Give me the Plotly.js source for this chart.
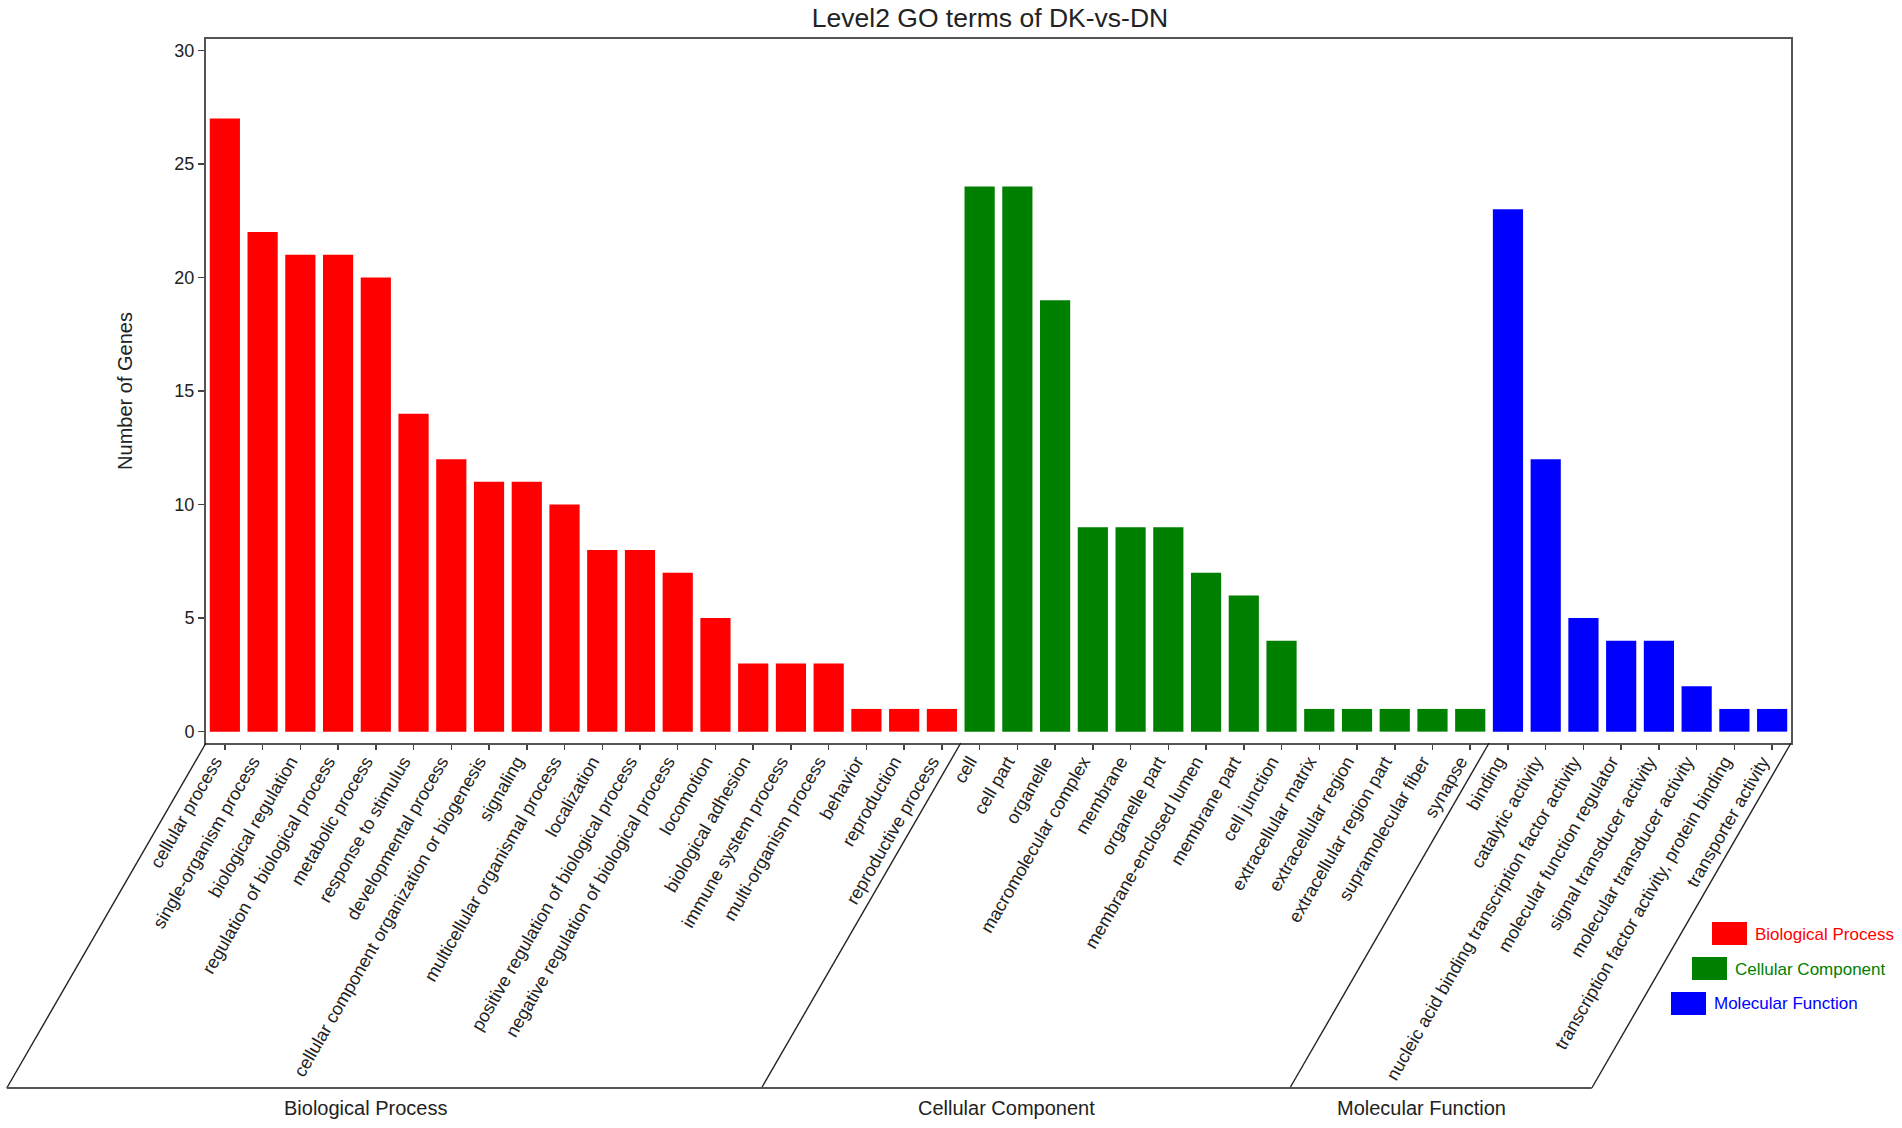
<!DOCTYPE html>
<html lang="en">
<head>
    <meta charset="UTF-8">
    <title>Level2 GO terms of DK-vs-DN</title>
    <script src="https://cdn.plot.ly/plotly-3.0.1.min.js"></script>
    <style>
        body { margin: 0; background: #fff; }
    </style>
</head>
<body>

<div id="plot"></div>

<script>
    // GO level 2 terms and gene counts, one list per ontology
    let bpTerms = ["cellular process", "single-organism process", "biological regulation",
        "regulation of biological process", "metabolic process", "response to stimulus",
        "developmental process", "cellular component organization or biogenesis", "signaling",
        "multicellular organismal process", "localization", "positive regulation of biological process",
        "negative regulation of biological process", "locomotion", "biological adhesion",
        "immune system process", "multi-organism process", "behavior", "reproduction",
        "reproductive process"]
    let bpCounts = [27, 22, 21, 21, 20, 14, 12, 11, 11, 10, 8, 8, 7, 5, 3, 3, 3, 1, 1, 1]

    let ccTerms = ["cell", "cell part", "organelle", "macromolecular complex", "membrane",
        "organelle part", "membrane-enclosed lumen", "membrane part", "cell junction",
        "extracellular matrix", "extracellular region", "extracellular region part",
        "supramolecular fiber", "synapse"]
    let ccCounts = [24, 24, 19, 9, 9, 9, 7, 6, 4, 1, 1, 1, 1, 1]

    let mfTerms = ["binding", "catalytic activity", "nucleic acid binding transcription factor activity",
        "molecular function regulator", "signal transducer activity", "molecular transducer activity",
        "transcription factor activity, protein binding", "transporter activity"]
    let mfCounts = [23, 12, 5, 4, 4, 2, 1, 1]

    let groupNames = ["Biological Process", "Cellular Component", "Molecular Function"]
    let groupColors = ["#ff0000", "#008000", "#0000ff"]

    // page geometry
    let W = 1902, H = 1128
    let margin = {l: 206, r: 111, t: 39, b: 385}
    let plotW = W - margin.l - margin.r
    let plotH = H - margin.t - margin.b
    let font = "Liberation Sans, Arial, Helvetica, sans-serif"
    let ink = "#222"

    // pixel -> paper helpers for the decorations
    let px = v => (v - margin.l) / plotW
    let py = v => (H - margin.b - v) / plotH

    let groups = [[bpTerms, bpCounts], [ccTerms, ccCounts], [mfTerms, mfCounts]]
    let nTotal = bpTerms.length + ccTerms.length + mfTerms.length

    let data = groups.map((g, i) => ({
        type: "bar",
        x: g[0],
        y: g[1],
        name: groupNames[i],
        marker: {color: groupColors[i], line: {width: 0}},
        hoverinfo: "x+y"
    }))

    // slanted frame under the tick labels
    let slant = 60 * Math.PI / 180
    let bottomPx = 1088
    let yb = py(bottomPx)
    let dx = ((bottomPx - (H - margin.b)) / Math.tan(slant)) / plotW
    let bounds = [0, bpTerms.length, bpTerms.length + ccTerms.length, nTotal]

    let shapes = bounds.map(b => ({
        type: "line", xref: "paper", yref: "paper",
        x0: b / nTotal, y0: 0, x1: b / nTotal - dx, y1: yb,
        line: {color: ink, width: 1.4}
    }))
    shapes.push({
        type: "line", xref: "paper", yref: "paper",
        x0: -dx, y0: yb, x1: 1 - dx, y1: yb,
        line: {color: "#555", width: 2}
    })

    let annotations = []
    for (let i = 0; i < 3; i++) {
        let mid = (bounds[i] + bounds[i + 1]) / 2 / nTotal - dx
        annotations.push({
            xref: "paper", yref: "paper",
            x: mid - 19 / plotW, y: py(1108),
            text: groupNames[i], showarrow: false,
            xanchor: "center", yanchor: "middle",
            font: {family: font, size: 20, color: ink}
        })
    }

    // legend boxes stepped along the slant
    let legendBoxes = [[1712, 922], [1692, 957], [1671, 992]]
    legendBoxes.forEach((p, i) => {
        shapes.push({
            type: "rect", xref: "paper", yref: "paper",
            x0: px(p[0]), x1: px(p[0] + 35), y0: py(p[1]), y1: py(p[1] + 23),
            fillcolor: groupColors[i], line: {width: 0}
        })
        annotations.push({
            xref: "paper", yref: "paper",
            x: px(p[0] + 41), y: py(p[1] + 12),
            text: groupNames[i], showarrow: false,
            xanchor: "left", yanchor: "middle",
            font: {family: font, size: 17, color: groupColors[i]}
        })
    })

    let layout = {
        width: W,
        height: H,
        margin: margin,
        paper_bgcolor: "#fff",
        plot_bgcolor: "#fff",
        showlegend: false,
        barmode: "overlay",
        bargap: 0.2,
        font: {family: font, color: ink},
        title: {
            text: "Level2 GO terms of DK-vs-DN",
            font: {family: font, size: 26.5, color: ink},
            xref: "container", yref: "container",
            x: 990 / W, xanchor: "center",
            y: 1 - 18 / H, yanchor: "middle"
        },
        xaxis: {
            type: "category",
            range: [-0.5, nTotal - 0.5],
            dtick: 1,
            tickangle: -60,
            ticklabelstandoff: -6,
            ticklabelshift: -10,
            tickfont: {family: font, size: 18, color: ink},
            ticks: "outside", ticklen: 5, tickwidth: 1.5, tickcolor: "#444",
            showline: true, linecolor: "#555", linewidth: 2, mirror: true,
            showgrid: false, zeroline: false,
            automargin: false, fixedrange: true
        },
        yaxis: {
            range: [-0.5, 30.5],
            tickvals: [0, 5, 10, 15, 20, 25, 30],
            tickfont: {family: font, size: 18, color: ink},
            ticks: "outside", ticklen: 6, tickwidth: 1.5, tickcolor: "#444",
            showline: true, linecolor: "#555", linewidth: 2, mirror: true,
            showgrid: false, zeroline: false,
            title: {text: "Number of Genes", font: {family: font, size: 20, color: ink}, standoff: 36},
            automargin: false, fixedrange: true
        },
        shapes: shapes,
        annotations: annotations
    }

    Plotly.newPlot("plot", data, layout, {displayModeBar: false, staticPlot: true})
</script>
</body>
</html>
